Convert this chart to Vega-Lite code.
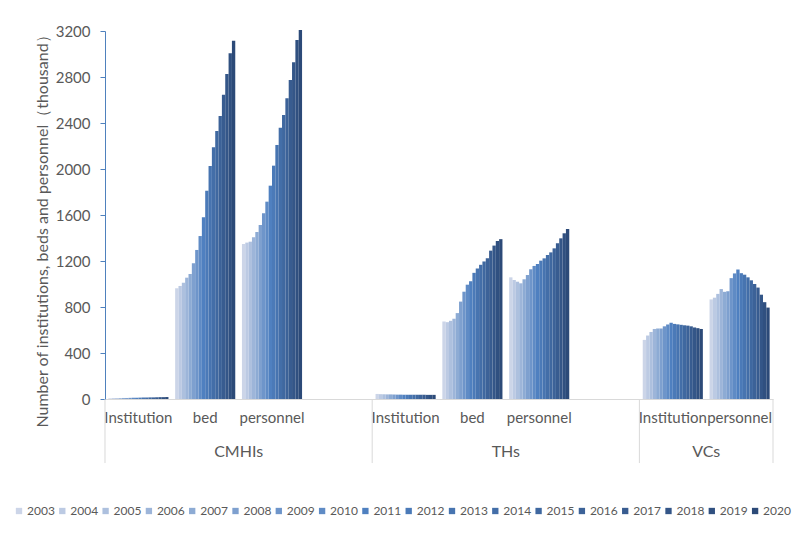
{
  "$schema": "https://vega.github.io/schema/vega-lite/v6.json",
  "width": 668,
  "height": 368,
  "autosize": {"type": "none"},
  "padding": {"left": 105, "top": 31, "right": 27, "bottom": 143},
  "background": "white",
  "config": {
    "font": "Lato",
    "view": {"stroke": null},
    "axis": {"labelColor": "#595959", "titleColor": "#595959", "titleFontWeight": "normal"}
  },
  "datasets": {
    "bars": [
      {"slot":"CMHIs|Institution","year":"2003","value":6},{"slot":"CMHIs|Institution","year":"2004","value":7},{"slot":"CMHIs|Institution","year":"2005","value":7},{"slot":"CMHIs|Institution","year":"2006","value":8},{"slot":"CMHIs|Institution","year":"2007","value":9},{"slot":"CMHIs|Institution","year":"2008","value":9},{"slot":"CMHIs|Institution","year":"2009","value":10},{"slot":"CMHIs|Institution","year":"2010","value":11},{"slot":"CMHIs|Institution","year":"2011","value":11},{"slot":"CMHIs|Institution","year":"2012","value":12},{"slot":"CMHIs|Institution","year":"2013","value":13},{"slot":"CMHIs|Institution","year":"2014","value":13},{"slot":"CMHIs|Institution","year":"2015","value":14},{"slot":"CMHIs|Institution","year":"2016","value":14},{"slot":"CMHIs|Institution","year":"2017","value":15},{"slot":"CMHIs|Institution","year":"2018","value":16},{"slot":"CMHIs|Institution","year":"2019","value":16},{"slot":"CMHIs|Institution","year":"2020","value":17},
      {"slot":"CMHIs|bed","year":"2003","value":963},{"slot":"CMHIs|bed","year":"2004","value":983},{"slot":"CMHIs|bed","year":"2005","value":1011},{"slot":"CMHIs|bed","year":"2006","value":1055},{"slot":"CMHIs|bed","year":"2007","value":1087},{"slot":"CMHIs|bed","year":"2008","value":1180},{"slot":"CMHIs|bed","year":"2009","value":1296},{"slot":"CMHIs|bed","year":"2010","value":1417},{"slot":"CMHIs|bed","year":"2011","value":1580},{"slot":"CMHIs|bed","year":"2012","value":1811},{"slot":"CMHIs|bed","year":"2013","value":2026},{"slot":"CMHIs|bed","year":"2014","value":2189},{"slot":"CMHIs|bed","year":"2015","value":2330},{"slot":"CMHIs|bed","year":"2016","value":2461},{"slot":"CMHIs|bed","year":"2017","value":2646},{"slot":"CMHIs|bed","year":"2018","value":2826},{"slot":"CMHIs|bed","year":"2019","value":3006},{"slot":"CMHIs|bed","year":"2020","value":3116},
      {"slot":"CMHIs|personnel","year":"2003","value":1348},{"slot":"CMHIs|personnel","year":"2004","value":1360},{"slot":"CMHIs|personnel","year":"2005","value":1368},{"slot":"CMHIs|personnel","year":"2006","value":1406},{"slot":"CMHIs|personnel","year":"2007","value":1452},{"slot":"CMHIs|personnel","year":"2008","value":1513},{"slot":"CMHIs|personnel","year":"2009","value":1615},{"slot":"CMHIs|personnel","year":"2010","value":1716},{"slot":"CMHIs|personnel","year":"2011","value":1855},{"slot":"CMHIs|personnel","year":"2012","value":2029},{"slot":"CMHIs|personnel","year":"2013","value":2209},{"slot":"CMHIs|personnel","year":"2014","value":2359},{"slot":"CMHIs|personnel","year":"2015","value":2470},{"slot":"CMHIs|personnel","year":"2016","value":2615},{"slot":"CMHIs|personnel","year":"2017","value":2774},{"slot":"CMHIs|personnel","year":"2018","value":2928},{"slot":"CMHIs|personnel","year":"2019","value":3122},{"slot":"CMHIs|personnel","year":"2020","value":3209},
      {"slot":"THs|Institution","year":"2003","value":44},{"slot":"THs|Institution","year":"2004","value":42},{"slot":"THs|Institution","year":"2005","value":41},{"slot":"THs|Institution","year":"2006","value":40},{"slot":"THs|Institution","year":"2007","value":40},{"slot":"THs|Institution","year":"2008","value":39},{"slot":"THs|Institution","year":"2009","value":38},{"slot":"THs|Institution","year":"2010","value":38},{"slot":"THs|Institution","year":"2011","value":37},{"slot":"THs|Institution","year":"2012","value":37},{"slot":"THs|Institution","year":"2013","value":37},{"slot":"THs|Institution","year":"2014","value":37},{"slot":"THs|Institution","year":"2015","value":37},{"slot":"THs|Institution","year":"2016","value":37},{"slot":"THs|Institution","year":"2017","value":37},{"slot":"THs|Institution","year":"2018","value":36},{"slot":"THs|Institution","year":"2019","value":36},{"slot":"THs|Institution","year":"2020","value":36},
      {"slot":"THs|bed","year":"2003","value":674},{"slot":"THs|bed","year":"2004","value":668},{"slot":"THs|bed","year":"2005","value":680},{"slot":"THs|bed","year":"2006","value":698},{"slot":"THs|bed","year":"2007","value":747},{"slot":"THs|bed","year":"2008","value":847},{"slot":"THs|bed","year":"2009","value":933},{"slot":"THs|bed","year":"2010","value":994},{"slot":"THs|bed","year":"2011","value":1024},{"slot":"THs|bed","year":"2012","value":1097},{"slot":"THs|bed","year":"2013","value":1134},{"slot":"THs|bed","year":"2014","value":1167},{"slot":"THs|bed","year":"2015","value":1196},{"slot":"THs|bed","year":"2016","value":1224},{"slot":"THs|bed","year":"2017","value":1290},{"slot":"THs|bed","year":"2018","value":1334},{"slot":"THs|bed","year":"2019","value":1375},{"slot":"THs|bed","year":"2020","value":1390},
      {"slot":"THs|personnel","year":"2003","value":1058},{"slot":"THs|personnel","year":"2004","value":1035},{"slot":"THs|personnel","year":"2005","value":1020},{"slot":"THs|personnel","year":"2006","value":1006},{"slot":"THs|personnel","year":"2007","value":1041},{"slot":"THs|personnel","year":"2008","value":1078},{"slot":"THs|personnel","year":"2009","value":1128},{"slot":"THs|personnel","year":"2010","value":1157},{"slot":"THs|personnel","year":"2011","value":1174},{"slot":"THs|personnel","year":"2012","value":1203},{"slot":"THs|personnel","year":"2013","value":1223},{"slot":"THs|personnel","year":"2014","value":1252},{"slot":"THs|personnel","year":"2015","value":1275},{"slot":"THs|personnel","year":"2016","value":1310},{"slot":"THs|personnel","year":"2017","value":1354},{"slot":"THs|personnel","year":"2018","value":1397},{"slot":"THs|personnel","year":"2019","value":1441},{"slot":"THs|personnel","year":"2020","value":1478},
      {"slot":"VCs|Institution","year":"2003","value":514},{"slot":"VCs|Institution","year":"2004","value":552},{"slot":"VCs|Institution","year":"2005","value":583},{"slot":"VCs|Institution","year":"2006","value":609},{"slot":"VCs|Institution","year":"2007","value":613},{"slot":"VCs|Institution","year":"2008","value":613},{"slot":"VCs|Institution","year":"2009","value":632},{"slot":"VCs|Institution","year":"2010","value":648},{"slot":"VCs|Institution","year":"2011","value":663},{"slot":"VCs|Institution","year":"2012","value":653},{"slot":"VCs|Institution","year":"2013","value":649},{"slot":"VCs|Institution","year":"2014","value":645},{"slot":"VCs|Institution","year":"2015","value":641},{"slot":"VCs|Institution","year":"2016","value":638},{"slot":"VCs|Institution","year":"2017","value":632},{"slot":"VCs|Institution","year":"2018","value":622},{"slot":"VCs|Institution","year":"2019","value":616},{"slot":"VCs|Institution","year":"2020","value":609},
      {"slot":"VCs|personnel","year":"2003","value":866},{"slot":"VCs|personnel","year":"2004","value":881},{"slot":"VCs|personnel","year":"2005","value":914},{"slot":"VCs|personnel","year":"2006","value":956},{"slot":"VCs|personnel","year":"2007","value":932},{"slot":"VCs|personnel","year":"2008","value":937},{"slot":"VCs|personnel","year":"2009","value":1051},{"slot":"VCs|personnel","year":"2010","value":1092},{"slot":"VCs|personnel","year":"2011","value":1126},{"slot":"VCs|personnel","year":"2012","value":1094},{"slot":"VCs|personnel","year":"2013","value":1081},{"slot":"VCs|personnel","year":"2014","value":1058},{"slot":"VCs|personnel","year":"2015","value":1032},{"slot":"VCs|personnel","year":"2016","value":1000},{"slot":"VCs|personnel","year":"2017","value":969},{"slot":"VCs|personnel","year":"2018","value":907},{"slot":"VCs|personnel","year":"2019","value":842},{"slot":"VCs|personnel","year":"2020","value":795}
    ],
    "starts": [
      {"slot": "CMHIs|Institution"}, {"slot": "THs|Institution"}, {"slot": "VCs|Institution"}
    ],
    "ends": [
      {"slot": "VCs|personnel"}
    ],
    "groups": [
      {"slot": "CMHIs|personnel", "group": "CMHIs"},
      {"slot": "THs|personnel", "group": "THs"},
      {"slot": "VCs|personnel", "group": "VCs"}
    ]
  },
  "encoding": {
    "x": {
      "field": "slot",
      "type": "nominal",
      "sort": null,
      "scale": {
        "domain": ["CMHIs|Institution","CMHIs|bed","CMHIs|personnel","CMHIs|blank","THs|Institution","THs|bed","THs|personnel","THs|blank","VCs|Institution","VCs|personnel"],
        "paddingInner": 0.1,
        "paddingOuter": 0.05
      },
      "axis": {
        "title": null,
        "ticks": false,
        "domainColor": "#d9d9d9",
        "labelFontSize": 15,
        "labelPadding": 11,
        "labelAngle": 0,
        "labelOverlap": false,
        "labelExpr": "indexof(datum.label, 'blank') >= 0 ? '' : split(datum.label, '|')[1]"
      }
    }
  },
  "layer": [
    {
      "data": {"name": "bars"},
      "mark": {"type": "bar"},
      "encoding": {
        "xOffset": {"field": "year", "type": "nominal", "scale": {"paddingInner": 0, "paddingOuter": 0}},
        "y": {
          "field": "value",
          "type": "quantitative",
          "scale": {"domain": [0, 3200], "nice": false},
          "axis": {
            "values": [0, 400, 800, 1200, 1600, 2000, 2400, 2800, 3200],
            "format": "d",
            "grid": false,
            "domainColor": "#4f81bd",
            "tickColor": "#4f81bd",
            "tickSize": 5,
            "labelFontSize": 15,
            "labelPadding": 10,
            "title": "Number of institutions, beds and personnel（thousand）",
            "titleFontSize": 16,
            "titlePadding": 5,
            "titleY": 196
          }
        },
        "color": {
          "field": "year",
          "type": "nominal",
          "scale": {
            "range": ["#ccd5e8","#bccae3","#adc0de","#9db5d9","#8dabd4","#7ea0cf","#6e95ca","#5f8bc5","#4f80c0","#4b7ab8","#4774b0","#436ea8","#3f68a0","#3c6298","#385c90","#345688","#305080","#2c4a78"]
          },
          "legend": {
            "title": null,
            "orient": "none",
            "legendX": -92,
            "legendY": 474,
            "direction": "horizontal",
            "columns": 18,
            "padding": 0,
            "symbolType": "square",
            "symbolSize": 40,
            "labelFontSize": 12,
            "labelColor": "#595959",
            "labelOffset": 2,
            "columnPadding": 1.3
          }
        }
      }
    },
    {
      "data": {"name": "starts"},
      "mark": {"type": "rule", "color": "#d9d9d9", "strokeWidth": 1},
      "encoding": {
        "x": {"field": "slot", "type": "nominal", "bandPosition": -0.0556},
        "y": {"datum": 0, "type": "quantitative"},
        "y2": {"datum": -557}
      }
    },
    {
      "data": {"name": "ends"},
      "mark": {"type": "rule", "color": "#d9d9d9", "strokeWidth": 1},
      "encoding": {
        "x": {"field": "slot", "type": "nominal", "bandPosition": 1.0556},
        "y": {"datum": 0, "type": "quantitative"},
        "y2": {"datum": -557}
      }
    },
    {
      "data": {"name": "groups"},
      "mark": {"type": "text", "fontSize": 16, "color": "#595959", "baseline": "middle", "align": "center", "dy": 53},
      "encoding": {
        "x": {"field": "slot", "type": "nominal", "bandPosition": -0.0556},
        "y": {"datum": 0, "type": "quantitative"},
        "text": {"field": "group"}
      }
    }
  ]
}
